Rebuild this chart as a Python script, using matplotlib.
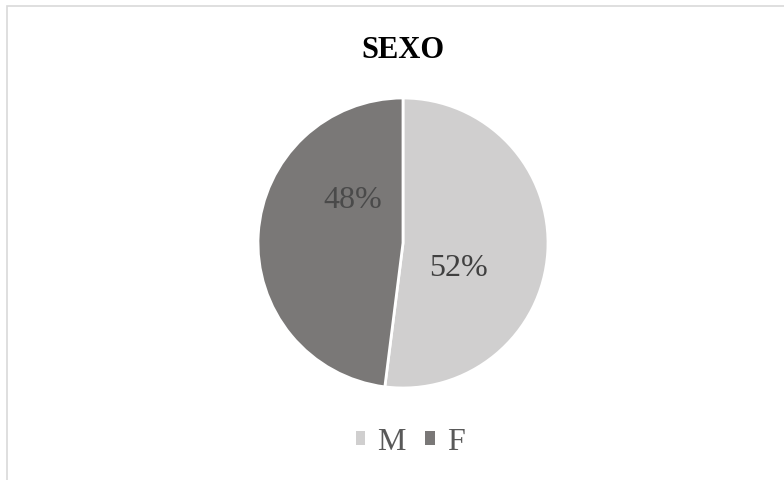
import matplotlib
matplotlib.use("Agg")
import matplotlib.pyplot as plt
from matplotlib.patches import Rectangle

categories = ["M", "F"]
values = [52, 48]
colors = ["#d0cfcf", "#7a7877"]
title = "SEXO"

plt.rcParams['font.family'] = ['Liberation Serif', 'DejaVu Serif']

W, H = 784, 481
fig = plt.figure(figsize=(W/100, H/100), dpi=100)

# border
fig.add_artist(Rectangle((7/W, -0.1), 1.2, 1 - 7/H + 0.1, transform=fig.transFigure,
                         fill=False, edgecolor="#d9d9d9", linewidth=1.2))

cx, cy, r = 403, 244, 145
ax = fig.add_axes([(cx - r)/W, (H - cy - r)/H, 2*r/W, 2*r/H])
wedges, texts, autotexts = ax.pie(values, colors=colors, startangle=90, counterclock=False,
                                  autopct=lambda p: f"{p:.0f}%",
                                  wedgeprops=dict(edgecolor="white", linewidth=2),
                                  textprops=dict(fontsize=23, color="#404040"))
ax.set_xlim(-1, 1)
ax.set_ylim(-1, 1)
ax.set_aspect('equal')
ax.axis('off')
label_pos = [(0.38, -0.17), (-0.345, 0.30)]
for t, p in zip(autotexts, label_pos):
    t.set_position(p)
autotexts[1].set_color("#4a4a4a")

fig.text(403/W, 1 - 50/H, title, ha="center", va="center", fontsize=22,
         fontweight="bold", color="black")

handles = [Rectangle((0, 0), 1, 1, facecolor=c, edgecolor="none") for c in colors]
fig.legend(handles, categories, loc="center", bbox_to_anchor=(410/W, 1 - 443/H),
           ncol=2, frameon=False, fontsize=23, handlelength=0.31, handleheight=0.31,
           handletextpad=0.37, columnspacing=0.6, labelcolor="#595959")

fig.savefig("out.png", dpi=100, facecolor="white")
